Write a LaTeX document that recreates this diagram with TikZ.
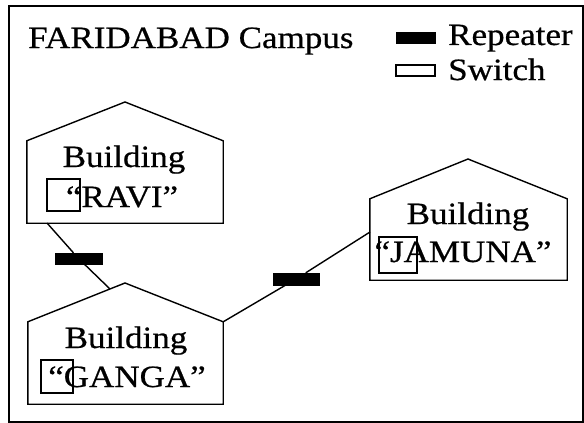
\documentclass[tikz,border=0pt]{standalone}
\usepackage{fontspec}
\setmainfont[FakeStretch=1.13,FakeBold=0.6]{Liberation Serif}
\begin{document}
\begin{tikzpicture}[x=1pt,y=-1pt,
  txt/.style={inner sep=0pt,font=\fontsize{31}{39}\selectfont},
  body/.style={draw=none,inner sep=0pt},
  outline/.style={line width=1.4pt,line join=miter},
  wire/.style={line width=1.4pt},
  repeater/.style={fill=black,draw=black,inner sep=0pt,minimum width=46pt,minimum height=11pt},
  switchbox/.style={draw=black,line width=1.1pt,fill=none,inner sep=0pt}
]
\useasboundingbox (0,0) rectangle (584,423);
\draw[line width=1.8pt] (9,6) rectangle (583,422);

% title and legend
\node[txt,anchor=base west] (title) at (28,48) {FARIDABAD Campus};
\node[repeater,minimum width=39pt,minimum height=11pt] (legrep) at (415.5,37.5) {};
\node[txt,anchor=base west] (legreptxt) at (448,45) {Repeater};
\node[switchbox,minimum width=39pt,minimum height=11pt] (legsw) at (415.5,70.5) {};
\node[txt,anchor=base west] (legswtxt) at (448,80) {Switch};

% RAVI
\node[body,minimum width=196pt,minimum height=82pt] (ravi) at (125,182) {};
\coordinate (raviPeak) at (125,102);
\draw[outline] (ravi.south west) -- (ravi.north west) -- (raviPeak) -- (ravi.north east) -- (ravi.south east) -- cycle;
\node[txt,anchor=base] (raviT1) at (124,167) {Building};
\node[txt,anchor=base] (raviT2) at (122,207) {“RAVI”};
\node[switchbox,minimum width=33pt,minimum height=32pt] (sw1) at (63.5,195) {};

% GANGA
\node[body,minimum width=195pt,minimum height=82pt] (ganga) at (125.5,363) {};
\coordinate (gangaPeak) at (125,283);
\draw[outline] (ganga.south west) -- (ganga.north west) -- (gangaPeak) -- (ganga.north east) -- (ganga.south east) -- cycle;
\node[txt,anchor=base] (gangaT1) at (126,348) {Building};
\node[txt,anchor=base] (gangaT2) at (127,387) {“GANGA”};
\node[switchbox,minimum width=32pt,minimum height=33pt] (sw2) at (57,376.5) {};

% JAMUNA
\node[body,minimum width=197pt,minimum height=81pt] (jamuna) at (468.5,239.5) {};
\coordinate (jamunaPeak) at (468,159);
\draw[outline] (jamuna.south west) -- (jamuna.north west) -- (jamunaPeak) -- (jamuna.north east) -- (jamuna.south east) -- cycle;
\node[txt,anchor=base] (jamunaT1) at (468,224) {Building};
\node[txt,anchor=base] (jamunaT2) at (463,262) {“JAMUNA”};
\node[switchbox,minimum width=38pt,minimum height=36pt] (sw3) at (398,255) {};

% connectors
\coordinate (raviOut) at (47,223);
\coordinate (gangaIn) at (110,289);
\coordinate (gangaOut) at (ganga.north east);
\coordinate (jamunaIn) at (370,232);
\node[repeater,minimum width=47pt] (rep1) at (78.5,258.5) {};
\node[repeater,minimum width=46pt,minimum height=12pt] (rep2) at (296,279) {};
\draw[wire] (raviOut) -- (rep1) -- (gangaIn);
\draw[wire] (gangaOut) -- (rep2) -- (jamunaIn);
\end{tikzpicture}
\end{document}
